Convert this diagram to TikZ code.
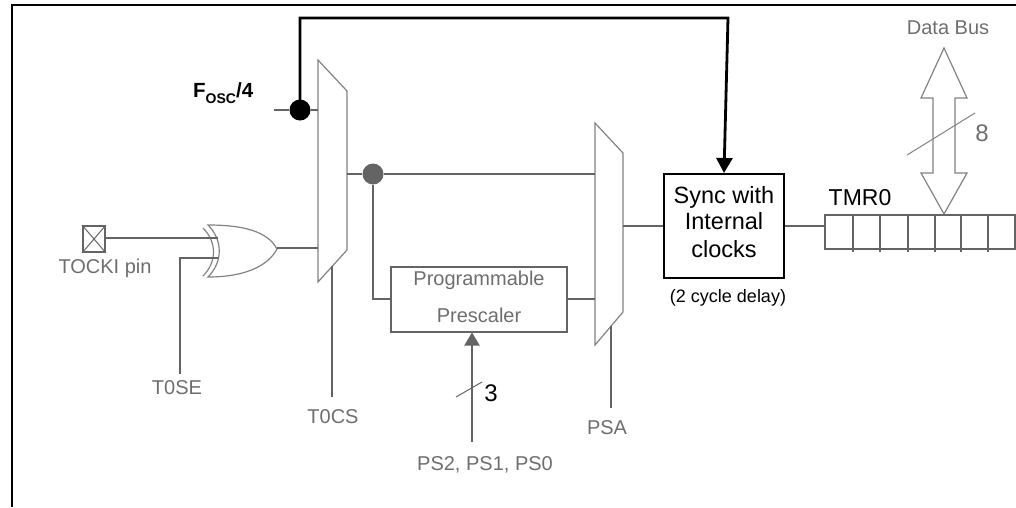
\documentclass[tikz,border=0pt]{standalone}
\usepackage{fontspec}
\setmainfont{Liberation Sans}
\usetikzlibrary{arrows.meta}
\definecolor{wire}{RGB}{100,100,100}
\definecolor{muxg}{RGB}{130,130,130}
\definecolor{txtg}{RGB}{110,110,110}
\tikzset{
  wireline/.style={draw=wire, line width=2pt},
  muxshape/.style={draw=muxg, line width=1.2pt, fill=white},
  glabel/.style={text=txtg, font=\fontsize{20}{24}\selectfont, inner sep=0pt},
  blabel/.style={text=black, font=\fontsize{23.5}{26}\selectfont, inner sep=0pt},
  dotnode/.style={circle, inner sep=0pt, minimum size=21pt},
}
\begin{document}
\begin{tikzpicture}[x=1pt,y=-1pt]
\useasboundingbox (0,0) rectangle (1016,507);
% frame
\draw[black, line width=2.5pt] (1016,5) -- (12,5) -- (12,507);

% muxes
\draw[muxshape] (318,60) -- (347,91) -- (347,250) -- (318,282) -- cycle;
\draw[muxshape] (595,123) -- (623,153) -- (623,312) -- (595,345) -- cycle;

% coordinates
\coordinate (fin) at (274,110);
\coordinate (m1fin) at (318,110);
\coordinate (m1out) at (347,174);
\coordinate (m1in) at (318,248);
\coordinate (m2in1) at (595,174);
\coordinate (m2in2) at (595,299);
\coordinate (m2out) at (623,226);
\coordinate (xout) at (277,248);
\coordinate (xin1) at (218,238);
\coordinate (xin2) at (218,258);
\coordinate (t0se) at (180,374);
\coordinate (t0cstop) at (332,266);
\coordinate (t0cs) at (332,397);
\coordinate (psatop) at (611,326);
\coordinate (psa) at (611,408);
\coordinate (psin) at (472,442);
\coordinate (topL) at (300,18);
\coordinate (topR) at (728,18);

% dots
\node[dotnode, fill=black] (d1) at (300,110) {};
\node[dotnode, fill=wire] (d2) at (373,174) {};

% boxes
\node[draw=wire, line width=2pt, minimum width=176pt, minimum height=65pt, inner sep=0pt] (pre) at (479,299) {};
\node[glabel] at (479,280) {Programmable};
\node[glabel] at (479,315) {Prescaler};

\node[draw=black, line width=2pt, minimum width=120pt, minimum height=104pt, inner sep=0pt] (sync) at (724,226) {};
\node[blabel, anchor=base] at (724,203) {Sync with};
\node[blabel, anchor=base] at (724,229) {Internal};
\node[blabel, anchor=base] at (724,257) {clocks};
\node[text=black, font=\fontsize{18}{22}\selectfont, inner sep=0pt] (delay) at (728,298) {(2 cycle delay)};

% pin
\node[draw=wire, line width=1.8pt, minimum width=22pt, minimum height=26pt, inner sep=0pt] (pin) at (94,239) {};
\draw[wire, line width=1pt] (pin.north west) -- (pin.south east) (pin.north east) -- (pin.south west);
\node[glabel] (pinlab) at (105,268) {TOCKI pin};

% XOR gate
\draw[muxg, line width=1.2pt, fill=white] (208,225) .. controls (245,225) and (268,232) .. (277,249)
   .. controls (268,266) and (245,277) .. (208,277) .. controls (223,262) and (223,240) .. cycle;
\draw[muxg, line width=1.2pt] (203,228) .. controls (217,242) and (217,262) .. (203,276);

% wires
\draw[wireline] (pin.east |- xin1) -- (xin1);
\draw[wireline] (xin2) -- (180,258) -- (t0se);
\node[glabel] (t0selab) at (177,388) {T0SE};
\draw[wireline] (xout) -- (m1in);
\draw[wireline] (fin) -- (d1) -- (m1fin);
\draw[wireline] (m1out) -- (d2) -- (m2in1);
\draw[wireline] (d2) |- (pre.west);
\draw[wireline] (pre.east) -- (m2in2);
\draw[wireline] (m2out) -- (sync.west);
\draw[wireline] (t0cstop) -- (t0cs);
\node[glabel] (t0cslab) at (333,417) {T0CS};
\draw[wireline] (psatop) -- (psa);
\node[glabel] (psalab) at (607,428) {PSA};

% black clock line
\draw[black, line width=2.8pt, -{Triangle[length=15pt,width=16pt]}] (d1.center) -- (topL) -- (topR) -- (sync.north);

% Fosc label
\node[anchor=base west, inner sep=0pt, font=\fontsize{20.5}{24}\selectfont\bfseries] (fosc) at (193,97)
  {F\raisebox{-6pt}{\fontsize{14}{16}\selectfont OSC}/4};

% prescaler select
\draw[wireline, -{Triangle[length=13pt,width=15pt]}] (psin) -- (pre.south -| psin);
\draw[wire, line width=1pt] (456,397) -- (482,382);
\node[text=black, font=\fontsize{24}{26}\selectfont, inner sep=0pt] (three) at (491,393) {3};
\node[glabel] (pslab) at (485,465) {PS2, PS1, PS0};

% sync -> TMR0
\coordinate (reg) at (825,226);
\draw[wireline] (sync.east) -- (reg);
\draw[wireline] (825,215) rectangle (1015,249);
\foreach \x in {853,880,908,935,961,988} \draw[wireline] (\x,215) -- (\x,252);
\node[blabel, font=\fontsize{23}{26}\selectfont] (tmr) at (860,198) {TMR0};

% data bus
\draw[muxg, line width=1.2pt, fill=white] (944,48) -- (967,98) -- (955,98) -- (955,173) -- (967,173) -- (944,214)
  -- (921,173) -- (933,173) -- (933,98) -- (921,98) -- cycle;
\draw[muxg, line width=1pt] (907,155) -- (975,113);
\node[text=txtg, font=\fontsize{24}{26}\selectfont, inner sep=0pt] (eight) at (982,133) {8};
\node[glabel] (dbus) at (948,28) {Data Bus};
\end{tikzpicture}
\end{document}
